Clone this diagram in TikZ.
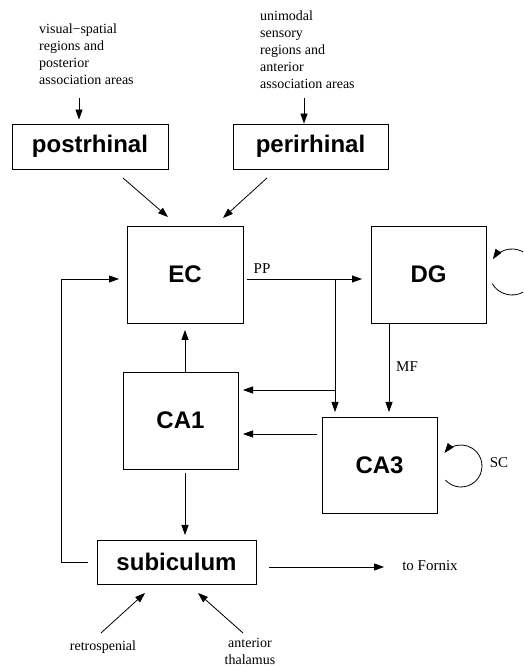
\documentclass[tikz,border=0pt]{standalone}
\usepackage{fontspec}
\setmainfont{Liberation Serif}
\newfontfamily\hv{Liberation Sans}
\usetikzlibrary{arrows.meta,calc}
\begin{document}
\begin{tikzpicture}[x=1pt,y=1pt,
  box/.style={draw,line width=0.8pt,font=\hv\bfseries\fontsize{24}{28}\selectfont,inner sep=0pt},
  small/.style={font=\fontsize{14}{17}\selectfont,inner sep=0pt,align=left},
  lbl/.style={font=\fontsize{15}{17}\selectfont,inner sep=0pt},
  arr/.style={line width=0.8pt,-{Triangle[length=10pt,width=7pt]}},
  ln/.style={line width=0.8pt}]
\clip (0,0) rectangle (523,666);
\fill[white] (0,0) rectangle (523,666);
% boxes
\node[box,minimum width=156pt,minimum height=45pt] (post) at (90,519.5) {postrhinal};
\node[box,minimum width=155pt,minimum height=45pt] (peri) at (310.5,519.5) {perirhinal};
\node[box,minimum width=116pt,minimum height=97pt] (EC) at (185,391.5) {EC};
\node[box,minimum width=115pt,minimum height=97pt] (DG) at (428.5,391.5) {DG};
\node[box,minimum width=115pt,minimum height=97pt] (CA1) at (180.5,245.5) {CA1};
\node[box,minimum width=115pt,minimum height=96pt] (CA3) at (379.5,201) {CA3};
\node[box,minimum width=159pt,minimum height=44pt] (sub) at (176.5,104) {subiculum};
% texts
\node[small,anchor=west] (vis) at (39,612) {visual−spatial\\regions and\\posterior\\association areas};
\node[small,anchor=west] (uni) at (260,616) {unimodal\\sensory\\regions and\\anterior\\association areas};
\node[lbl] (fornix) at (430,100) {to Fornix};
\node[small] (retro) at (103,19) {retrospenial};
\node[small,align=center] (ant) at (250,15) {anterior\\thalamus};
% coordinates
\coordinate (v1) at (79,568);
\coordinate (u1) at (304,568);
\coordinate (d1) at (123,488);
\coordinate (d1e) at (168,449);
\coordinate (d2) at (267,488);
\coordinate (d2e) at (223,448);
\coordinate (ppstart) at (247,387);
\coordinate (ppend) at (362,387);
\coordinate (br) at (335,387);
\coordinate (brend) at (335,254);
\coordinate (brmid) at (335,276);
\coordinate (ca1in1) at (243,276);
\coordinate (ca3out) at (317,232);
\coordinate (ca1in2) at (243,232);
\coordinate (mfs) at (389,343);
\coordinate (mfe) at (389,254);
\coordinate (up1) at (185,294);
\coordinate (up2) at (185,336);
\coordinate (dn1) at (185,193);
\coordinate (dn2) at (185,131);
\coordinate (lp0) at (88,104);
\coordinate (lp1) at (61,104);
\coordinate (lp2) at (61,387);
\coordinate (lp3) at (119,387);
\coordinate (fx0) at (269,99);
\coordinate (fx1) at (384,99);
\coordinate (r0) at (101,33);
\coordinate (r1) at (145,73);
\coordinate (a0) at (243,33);
\coordinate (a1) at (198,73);
% connectors
\draw[arr] (v1) -- ([yshift=4pt]post.north -| v1);
\draw[arr] (u1) -- (peri.north -| u1);
\draw[arr] (d1) -- (d1e);
\draw[arr] (d2) -- (d2e);
\draw[arr] (ppstart) -- (ppend);
\node[lbl,anchor=south] at (262,392) {PP};
\draw[arr] (br) -- (brend);
\draw[arr] (brmid) -- (ca1in1);
\draw[arr] (ca3out) -- (ca1in2);
\draw[arr] (mfs) -- (mfe);
\node[lbl] at (407,299) {MF};
\draw[arr] (up1) -- (up2);
\draw[arr] (dn1) -- (dn2);
\draw[arr] (lp0) -- (lp1) -- (lp2) -- (lp3);
\draw[arr] (fx0) -- (fx1);
\draw[arr] (r0) -- (r1);
\draw[arr] (a0) -- (a1);
% loops
\coordinate (dgc) at (512,394);
\coordinate (ca3c) at (461,200);
\draw[ln,-{Triangle[length=10pt,width=7pt]}] ($(dgc)+(210:23)$) arc[start angle=210,end angle=506,radius=23];
\draw[ln,-{Triangle[length=10pt,width=7pt]}] ($(ca3c)+(222:21)$) arc[start angle=222,end angle=502,radius=21];
\node[lbl] at (499,203) {SC};
\end{tikzpicture}
\end{document}
